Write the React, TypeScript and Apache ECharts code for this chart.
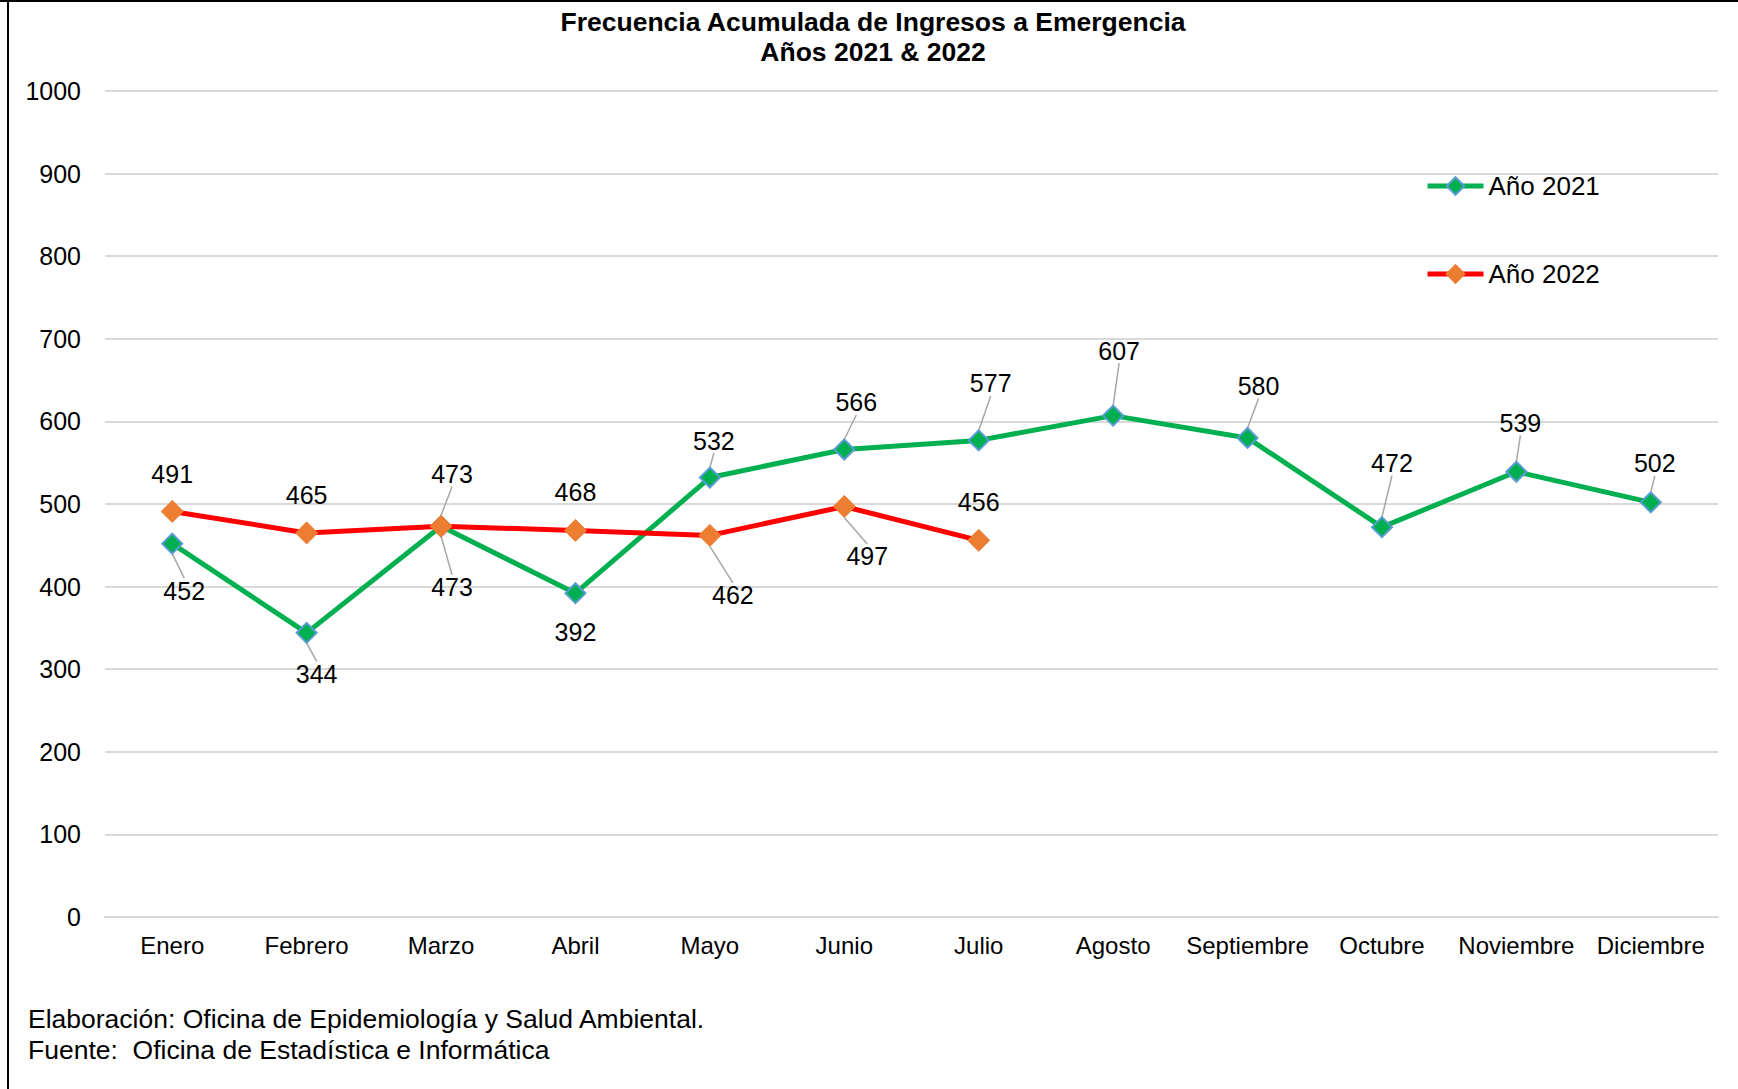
import React, { useEffect, useRef } from "react";
import * as echarts from "echarts";

const months = ["Enero", "Febrero", "Marzo", "Abril", "Mayo", "Junio", "Julio", "Agosto", "Septiembre", "Octubre", "Noviembre", "Diciembre"];
const values2021 = [452, 344, 473, 392, 532, 566, 577, 607, 580, 472, 539, 502];
const values2022 = [491, 465, 473, 468, 462, 497, 456];
const yTicks = { min: 0, max: 1000, interval: 100 };

// label placement (offset from marker centre) and leader-line visibility
const labelOffsets2021 = [[12, 47], [10, 41], [11, 61], [0, 39], [4, -37], [12, -47], [12, -57], [6, -65], [11, -52], [10, -64], [4, -49], [4, -39]];
const leader2021 = [true, true, true, false, true, true, true, true, true, true, true, true];
const labelOffsets2022 = [[0, -37], [0, -38], [11, -52], [0, -38], [23, 60], [23, 50], [0, -38]];
const leader2022 = [false, false, true, false, true, true, false];

const FONT = "Liberation Sans, Arial, sans-serif";

export default function App() {
  const ref = useRef<HTMLDivElement>(null);
  useEffect(() => {
    if (!ref.current) return;
    const chart = echarts.init(ref.current, null, { renderer: "svg" });
    const mkData = (vals: number[], leaders: boolean[]) =>
      vals.map((v, i) => ({ value: v, labelLine: { show: leaders[i] } }));
    const labelCommon = {
      show: true,
      position: "inside",
      fontSize: 25,
      color: "#000",
      fontFamily: FONT,
    };
    const labelLineCommon = {
      show: true,
      lineStyle: { color: "#a6a6a6", width: 1.5 },
    };
    chart.setOption({
      animation: false,
      backgroundColor: "#fff",
      textStyle: { fontFamily: FONT },
      title: [
        {
          text: "Elaboración: Oficina de Epidemiología y Salud Ambiental.\nFuente:  Oficina de Estadística e Informática",
          left: 28,
          top: 1003,
          padding: 0,
          textStyle: { fontSize: 26.5, fontWeight: "normal", color: "#000", lineHeight: 31, fontFamily: FONT },
        },
      ],
      graphic: [
        { type: "line", shape: { x1: 0, y1: 1, x2: 1738, y2: 1 }, style: { stroke: "#000", lineWidth: 2 } },
        { type: "line", shape: { x1: 8, y1: 0, x2: 8, y2: 1089 }, style: { stroke: "#000", lineWidth: 2 } },
        {
          type: "text",
          x: 873,
          y: 7,
          style: {
            text: "Frecuencia Acumulada de Ingresos a Emergencia\nAños 2021 & 2022",
            textAlign: "center",
            textVerticalAlign: "top",
            font: `bold 26.5px ${FONT}`,
            lineHeight: 30,
            fill: "#000",
          },
        },
      ],
      legend: {
        orient: "vertical",
        left: 1420,
        top: 168,
        itemGap: 62,
        itemWidth: 56,
        itemHeight: 22,
        lineStyle: { width: 5 },
        textStyle: { fontSize: 26, color: "#000", fontFamily: FONT },
        data: ["Año 2021", "Año 2022"],
      },
      grid: { left: 105, right: 20, top: 91, bottom: 172 },
      xAxis: {
        type: "category",
        data: months,
        boundaryGap: true,
        axisLine: { show: true, lineStyle: { color: "#d9d9d9", width: 2 } },
        axisTick: { show: false },
        axisLabel: { fontSize: 24, color: "#000", margin: 16, interval: 0, fontFamily: FONT },
      },
      yAxis: {
        type: "value",
        min: yTicks.min,
        max: yTicks.max,
        interval: yTicks.interval,
        axisLine: { show: false },
        axisTick: { show: false },
        axisLabel: { fontSize: 25, color: "#000", margin: 24, fontFamily: FONT, formatter: (v: number) => String(v) },
        splitLine: { lineStyle: { color: "#d9d9d9", width: 2 } },
      },
      series: [
        {
          name: "Año 2021",
          type: "line",
          data: mkData(values2021, leader2021),
          symbol: "diamond",
          symbolSize: 20,
          lineStyle: { color: "#00B050", width: 5 },
          itemStyle: { color: "#00B050", borderColor: "#5B9BD5", borderWidth: 2 },
          label: labelCommon,
          labelLine: labelLineCommon,
          labelLayout: (p: any) => ({ dx: labelOffsets2021[p.dataIndex][0], dy: labelOffsets2021[p.dataIndex][1] }),
          z: 2,
        },
        {
          name: "Año 2022",
          type: "line",
          data: mkData(values2022, leader2022),
          symbol: "diamond",
          symbolSize: 22,
          lineStyle: { color: "#FF0000", width: 5 },
          itemStyle: { color: "#ED7D31", borderColor: "#ED7D31", borderWidth: 1 },
          label: labelCommon,
          labelLine: labelLineCommon,
          labelLayout: (p: any) => ({ dx: labelOffsets2022[p.dataIndex][0], dy: labelOffsets2022[p.dataIndex][1] }),
          z: 3,
        },
      ],
    });
    return () => chart.dispose();
  }, []);
  return (
    <div
      ref={ref}
      style={{ position: "absolute", left: 0, top: 0, width: 1738, height: 1089 }}
    />
  );
}
